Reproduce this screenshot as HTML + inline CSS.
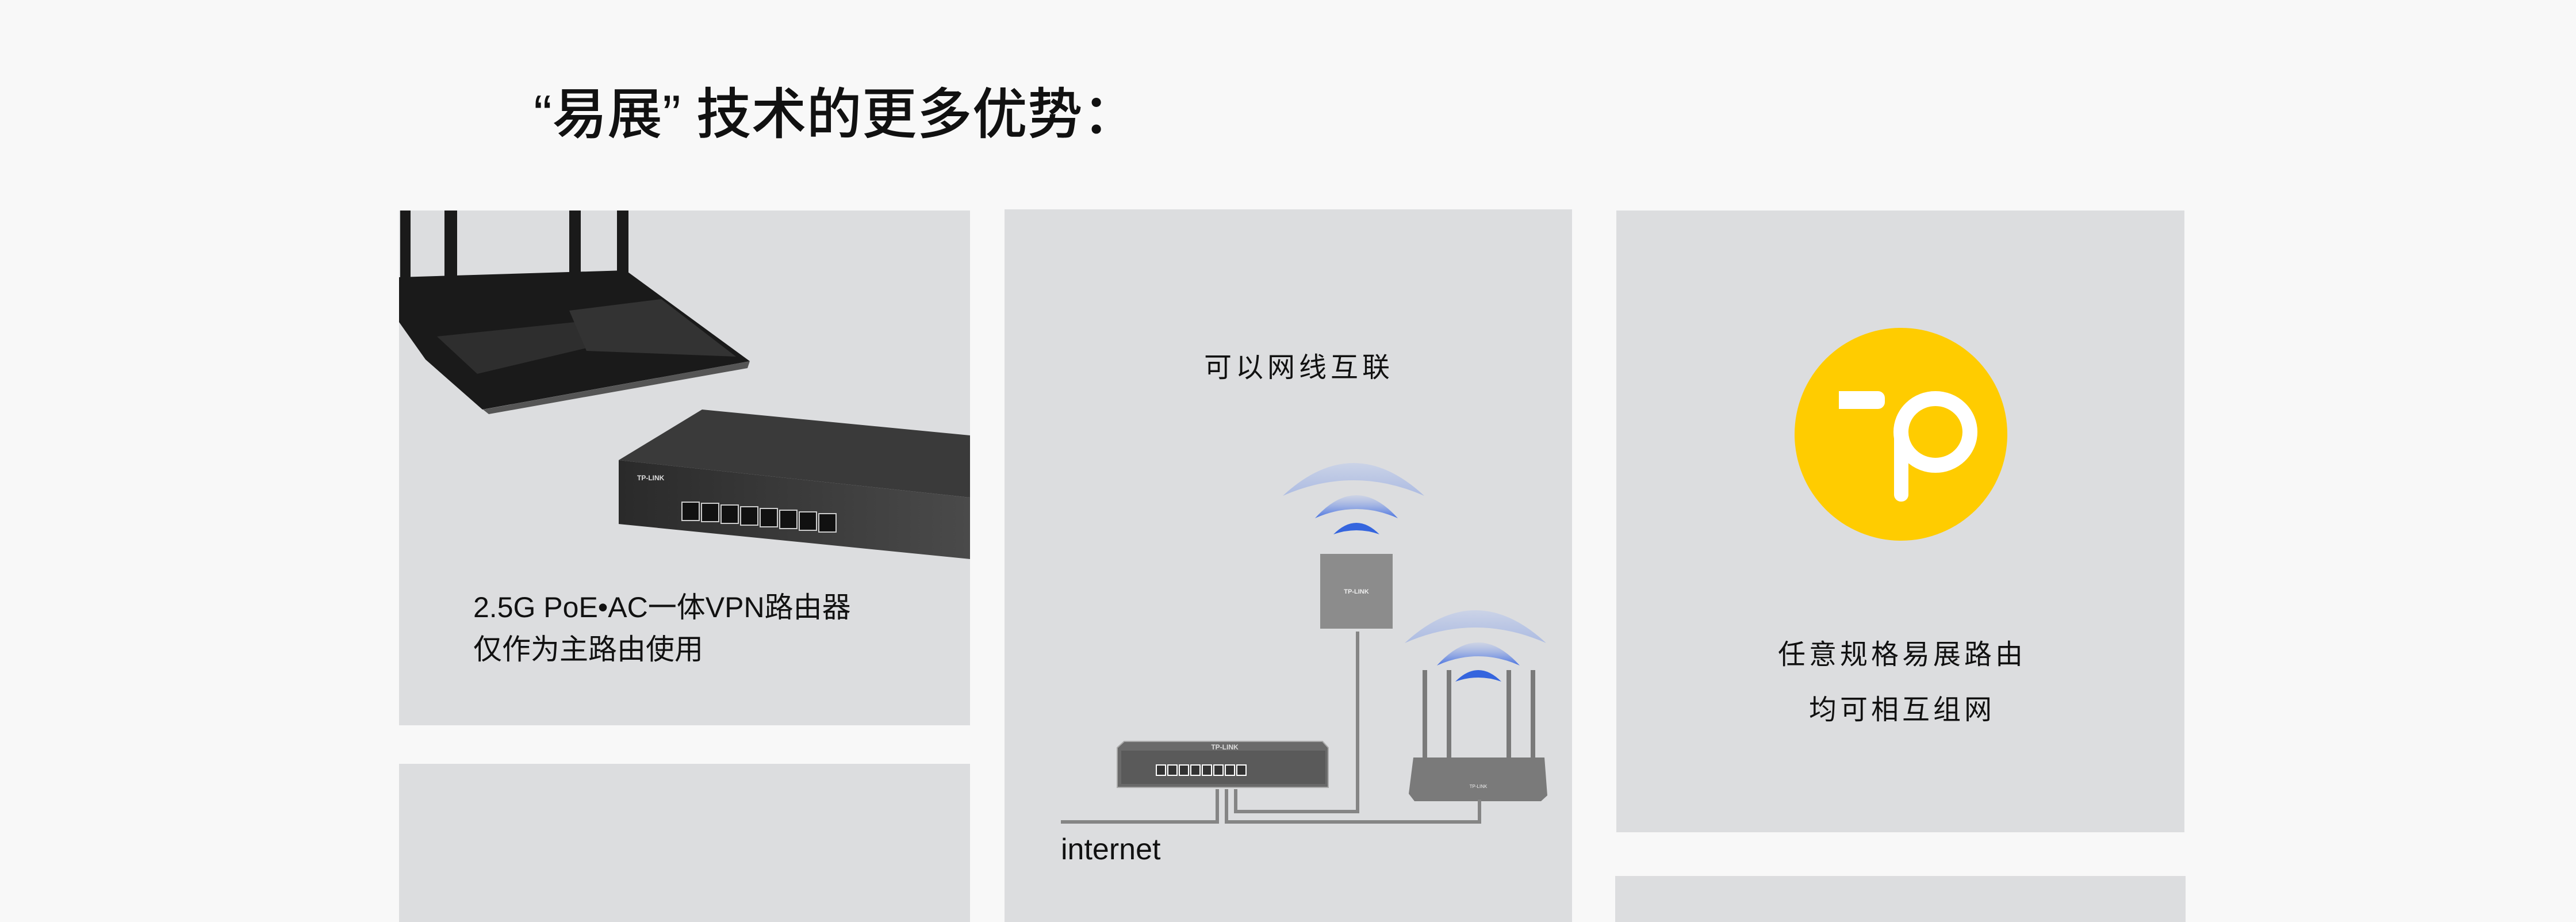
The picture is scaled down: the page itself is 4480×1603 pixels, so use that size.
<!DOCTYPE html>
<html><head><meta charset="utf-8"><style>
html,body{margin:0;padding:0;background:#f8f8f8;}
svg{display:block;}
text{font-family:"Liberation Sans","Noto Sans CJK SC",sans-serif;}
</style></head><body>
<svg width="4480" height="1603" viewBox="0 0 4480 1603" xmlns="http://www.w3.org/2000/svg">
<defs>
<linearGradient id="wg" x1="0" y1="0" x2="0" y2="1">
<stop offset="0" stop-color="#b8c6ea" stop-opacity="0.5"/><stop offset="1" stop-color="#2f5fe0"/>
</linearGradient>
<linearGradient id="wg2" x1="0" y1="0" x2="0" y2="1">
<stop offset="0" stop-color="#c4cfea" stop-opacity="0.7"/><stop offset="1" stop-color="#8ea6e4" stop-opacity="0.6"/>
</linearGradient>
<linearGradient id="sw" x1="0" y1="0" x2="1" y2="0"><stop offset="0" stop-color="#2a2a2a"/><stop offset="1" stop-color="#4a4a4a"/></linearGradient>
<g id="waves">
<path d="M2231,862 Q2354,748 2477,862 Q2354,808 2231,862Z" fill="url(#wg2)"/>
<path d="M2287,901 Q2359,821 2431,901 Q2359,869 2287,901Z" fill="url(#wg)" opacity="0.85"/>
<path d="M2319,929 Q2359,889 2399,929 Q2359,915 2319,929Z" fill="#3565de"/>
</g>
</defs>
<rect width="4480" height="1603" fill="#f8f8f8"/>
<text x="928" y="232" font-size="96" fill="#111" font-family="Noto Sans CJK SC, sans-serif" font-weight="500">“易展” 技术的更多优势：</text>

<!-- cards -->
<rect x="694" y="366" width="993" height="895" fill="#dcdddf"/>
<rect x="694" y="1328" width="993" height="275" fill="#dcdddf"/>
<rect x="1747" y="364" width="987" height="1239" fill="#dcdddf"/>
<rect x="2811" y="366" width="988" height="1081" fill="#dcdddf"/>
<rect x="2809" y="1523" width="992" height="80" fill="#dcdddf"/>

<!-- card1 router -->
<g fill="#1a1a1a">
<rect x="696" y="366" width="18" height="140"/>
<rect x="773" y="366" width="22" height="130"/>
<rect x="990" y="366" width="20" height="120"/>
<rect x="1073" y="366" width="20" height="120"/>
<polygon points="694,482 1088,470 1304,628 839,712 740,625 694,560"/>
</g>
<polygon points="760,585 1000,560 1020,605 830,650" fill="#2e2e2e"/>
<polygon points="990,540 1150,520 1280,620 1020,610" fill="#333"/>
<polygon points="840,712 1304,628 1300,640 850,720" fill="#555"/>
<!-- card1 switch -->
<polygon points="1076,800 1221,712 1687,757 1687,865" fill="#3a3a3a"/>
<polygon points="1076,800 1687,865 1687,972 1076,911" fill="url(#sw)"/>
<g fill="#111" stroke="#ccc" stroke-width="2">
<rect x="1186" y="873" width="30" height="32"/><rect x="1220" y="875" width="30" height="32"/>
<rect x="1254" y="878" width="30" height="32"/><rect x="1288" y="881" width="30" height="32"/>
<rect x="1322" y="884" width="30" height="32"/><rect x="1356" y="887" width="30" height="32"/>
<rect x="1390" y="890" width="30" height="32"/><rect x="1424" y="893" width="30" height="32"/>
</g>
<text x="1108" y="835" font-size="12" fill="#ddd" font-weight="bold">TP-LINK</text>
<text x="823" y="1073" font-size="50" fill="#111">2.5G PoE•AC一体VPN路由器</text>
<text x="823" y="1146" font-size="50" fill="#111">仅作为主路由使用</text>

<!-- card2 -->
<text x="2094" y="655" font-size="48" fill="#111" letter-spacing="7">可以网线互联</text>
<use href="#waves"/>
<rect x="2296" y="963" width="126" height="130" fill="#8c8c8c"/>
<text x="2359" y="1032" font-size="11" fill="#eee" text-anchor="middle" font-weight="bold">TP-LINK</text>
<use href="#waves" transform="translate(212,256)"/>
<g fill="#7a7a7a">
<rect x="2474" y="1165" width="8" height="155"/><rect x="2516" y="1165" width="8" height="155"/>
<rect x="2620" y="1165" width="8" height="155"/><rect x="2662" y="1165" width="8" height="155"/>
<polygon points="2458,1317 2686,1317 2691,1383 2680,1393 2460,1393 2450,1380"/>
</g>
<text x="2571" y="1370" font-size="8" fill="#eee" text-anchor="middle">TP-LINK</text>
<polygon points="1955,1289 2300,1289 2310,1300 2310,1369 1943,1369 1943,1300" fill="#6a6a6a" stroke="#aaa" stroke-width="2"/>
<rect x="1950" y="1305" width="355" height="58" fill="#5a5a5a"/>
<g fill="#333" stroke="#fff" stroke-width="2"><rect x="2011" y="1330" width="16" height="18"/><rect x="2031" y="1330" width="16" height="18"/><rect x="2051" y="1330" width="16" height="18"/><rect x="2071" y="1330" width="16" height="18"/><rect x="2091" y="1330" width="16" height="18"/><rect x="2111" y="1330" width="16" height="18"/><rect x="2131" y="1330" width="16" height="18"/><rect x="2151" y="1330" width="16" height="18"/></g>
<text x="2130" y="1303" font-size="12" fill="#ddd" text-anchor="middle" font-weight="bold">TP-LINK</text>
<g fill="none" stroke="#858585" stroke-width="6">
<polyline points="1845,1429 2117,1429 2117,1372"/>
<polyline points="2133,1372 2133,1429 2573,1429 2573,1390"/>
<polyline points="2149,1372 2149,1411 2361,1411 2361,1098"/>
</g>
<text x="1845" y="1494" font-size="52" fill="#111" font-family="DejaVu Sans, sans-serif">internet</text>

<!-- card3 -->
<circle cx="3306" cy="755" r="185" fill="#ffcc00"/>
<rect x="3198" y="680" width="80" height="31" rx="12" fill="#fff"/>
<rect x="3198" y="680" width="40" height="31" fill="#fff"/>
<ellipse cx="3366" cy="751" rx="60" ry="58" fill="none" stroke="#fff" stroke-width="26"/>
<rect x="3294" y="750" width="25" height="122" rx="12" fill="#fff"/>
<text x="3308" y="1154" font-size="48" fill="#111" text-anchor="middle" letter-spacing="6">任意规格易展路由</text>
<text x="3308" y="1250" font-size="48" fill="#111" text-anchor="middle" letter-spacing="6">均可相互组网</text>
</svg>
</body></html>
